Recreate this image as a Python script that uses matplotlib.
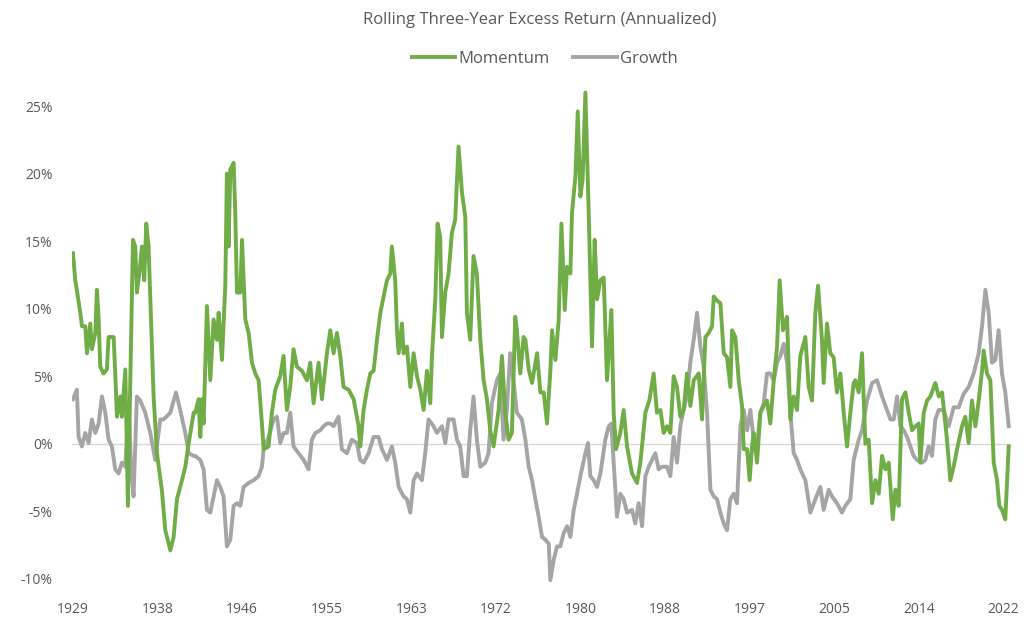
import matplotlib.pyplot as plt
import numpy as np
from matplotlib.ticker import FuncFormatter

TITLE = "Rolling Three-Year Excess Return (Annualized)"
TICK_LABELS = ["1929", "1938", "1946", "1955", "1963", "1972",
               "1980", "1988", "1997", "2005", "2014", "2022"]

MOM_YEARS = [
    1929.47, 1929.70, 1930.20, 1930.36, 1930.69, 1930.86, 1931.19, 1931.35, 1931.69, 1931.85,
    1932.02, 1932.18, 1932.51, 1932.84, 1933.01, 1933.51, 1933.67, 1933.84, 1934.17, 1934.33,
    1934.67, 1934.93, 1935.43, 1935.66, 1935.82, 1936.09, 1936.32, 1936.55, 1936.75, 1936.98,
    1937.48, 1937.81, 1938.31, 1938.64, 1939.14, 1939.47, 1939.80, 1940.30, 1940.63, 1940.96,
    1941.46,
    1941.62, 1941.95, 1942.12, 1942.28, 1942.45, 1942.78, 1943.11, 1943.44, 1943.77, 1943.94,
    1944.27, 1944.60, 1944.76, 1944.93, 1945.10, 1945.43, 1945.59, 1945.76, 1946.09, 1946.26,
    1946.59, 1946.92, 1947.25, 1947.58, 1947.91, 1948.24, 1948.41, 1948.90, 1949.23, 1949.56,
    1950.06, 1950.39, 1950.72, 1951.05, 1951.38, 1951.72, 1952.21, 1952.71, 1953.04, 1953.37,
    1953.87, 1954.20, 1954.70, 1955.03, 1955.36, 1955.69, 1956.02, 1956.35, 1956.85, 1957.35,
    1957.84,
    1958.01, 1958.34, 1958.67, 1959.00, 1959.33, 1959.67, 1960.00, 1960.33, 1960.66, 1960.99,
    1961.15, 1961.48, 1961.65, 1961.82, 1962.15, 1962.31, 1962.64, 1962.98, 1963.31, 1963.64,
    1963.97, 1964.30, 1964.63, 1964.96, 1965.13, 1965.46, 1965.69, 1965.95, 1966.12, 1966.45,
    1966.78, 1967.11, 1967.44, 1967.77, 1968.11, 1968.44, 1968.60, 1968.93, 1969.26, 1969.59,
    1969.93, 1970.26, 1970.59, 1970.92, 1971.25, 1971.75, 1972.08, 1972.41, 1972.74, 1973.07,
    1973.40, 1973.57, 1973.90, 1974.23,
    1974.41, 1974.74, 1975.07, 1975.57, 1975.90, 1976.23, 1976.56, 1976.89, 1977.06, 1977.39,
    1977.72, 1977.99, 1978.32, 1978.55, 1978.88, 1979.04, 1979.38, 1979.61, 1979.87, 1980.10,
    1980.37, 1980.70, 1981.03, 1981.29, 1981.53, 1981.86, 1982.19, 1982.52, 1982.95, 1983.18,
    1983.41, 1983.84, 1984.17, 1984.51, 1985.00, 1985.50, 1985.83, 1986.33, 1986.72, 1987.15,
    1987.48, 1987.82, 1988.15, 1988.48, 1988.81, 1989.14, 1989.47, 1989.80, 1990.13, 1990.46,
    1990.80, 1991.13, 1991.63, 1991.96, 1992.29, 1992.62, 1992.95, 1993.12, 1993.45, 1993.78,
    1994.11, 1994.44, 1994.77, 1994.94, 1995.27, 1995.60, 1995.93, 1996.10, 1996.43, 1996.69,
    1996.92, 1997.09, 1997.42, 1997.75, 1998.08, 1998.41, 1998.74, 1999.08, 1999.41, 1999.67,
    2000.00, 2000.40, 2000.73, 2001.06, 2001.39, 2001.72, 2002.22, 2002.55, 2002.88, 2003.21,
    2003.48, 2003.87, 2004.04, 2004.37, 2004.70, 2005.03, 2005.36, 2005.70, 2006.03, 2006.36,
    2006.69, 2007.02,
    2007.19, 2007.52, 2007.85, 2008.18, 2008.51, 2008.85, 2009.18, 2009.51, 2009.84, 2010.17,
    2010.50, 2010.90, 2011.16, 2011.49, 2011.82, 2012.16, 2012.49, 2012.82, 2013.15, 2013.48,
    2013.64, 2013.98, 2014.31, 2014.64, 2015.13, 2015.47, 2015.80, 2016.29, 2016.62, 2016.95,
    2017.29, 2017.78, 2018.11, 2018.44, 2018.77, 2019.11, 2019.44, 2019.77, 2019.93, 2020.26,
    2020.60, 2020.93, 2021.26, 2021.49, 2021.75, 2022.08, 2022.42,
]
MOM_VALUES = [
    14.1, 12.1, 9.7, 8.7, 8.7, 6.7, 8.9, 7.0, 8.2, 11.4,
    9.2, 5.7, 5.2, 5.5, 7.9, 7.9, 5.2, 2.0, 3.5, 2.0,
    5.5, -4.6, 15.1, 14.6, 11.2, 12.8, 14.6, 12.1, 16.3, 14.6,
    3.5, -0.7, -3.5, -6.4, -7.9, -6.9, -4.1, -2.7, -1.7, 0.0,
    2.3,
    2.3, 3.3, 0.5, 3.3, 1.5, 10.2, 4.7, 9.2, 7.7, 9.7,
    6.2, 11.7, 20.0, 14.6, 20.3, 20.8, 17.1, 11.2, 11.2, 15.1,
    9.2, 8.2, 6.0, 5.2, 4.7, 1.5, -0.4, -0.2, 2.3, 4.0,
    5.0, 6.5, 2.5, 4.2, 7.0, 5.7, 5.4, 4.7, 6.0, 3.0,
    6.0, 3.3, 6.7, 8.4, 6.7, 8.2, 6.5, 4.2, 4.0, 3.3,
    1.3,
    -0.2, 2.5, 4.0, 5.2, 5.4, 7.7, 9.7, 10.9, 12.1, 12.6,
    14.6, 12.1, 8.4, 6.7, 8.9, 6.7, 7.2, 4.2, 6.7, 5.0,
    4.0, 2.5, 5.4, 3.0, 6.5, 10.7, 16.3, 15.3, 7.9, 11.2,
    12.6, 15.6, 16.6, 22.0, 18.6, 16.8, 9.7, 7.7, 13.9, 12.6,
    7.7, 4.7, 3.3, 1.0, -0.2, 2.5, 6.5, 2.3, 0.3, 0.8,
    9.4, 8.4, 5.2, 7.9,
    7.7, 5.5, 4.5, 6.7, 3.8, 3.8, 1.5, 5.4, 8.4, 6.2,
    9.2, 16.3, 9.9, 13.1, 12.6, 17.1, 19.8, 24.6, 18.3, 19.6,
    26.0, 17.1, 7.2, 15.1, 10.7, 12.1, 12.3, 4.7, 9.9, 2.3,
    -0.4, 0.8, 2.5, -0.2, -2.2, -2.9, -1.4, 2.3, 3.2, 5.2,
    2.3, 2.5, 0.8, 1.3, 0.8, 5.0, 4.2, 2.0, 2.5, 5.2,
    2.8, 4.7, 5.2, 1.8, 7.9, 8.2, 8.7, 10.9, 10.6, 10.4,
    6.7, 6.4, 4.2, 8.4, 7.9, 4.7, 2.8, -0.4, -0.4, -2.7,
    -0.2, 0.8, -1.4, 2.3, 2.8, 3.2, 1.5, 4.7, 7.2, 12.1,
    8.4, 9.4, 1.8, 3.5, 2.5, 6.5, 7.9, 4.2, 3.2, 9.7,
    11.7, 7.7, 4.5, 8.9, 6.7, 6.4, 3.8, 5.2, 2.3, -0.2,
    2.3, 4.5,
    4.7, 3.8, 6.7, 0.0, 0.3, -4.4, -2.7, -3.7, -0.9, -1.9,
    -1.4, -5.6, -3.4, -4.6, 3.3, 3.8, 2.3, 1.0, 1.3, 1.5,
    -1.4, 2.3, 3.2, 3.5, 4.5, 3.5, 3.8, 0.3, -2.7, -1.7,
    -0.4, 1.3, 2.0, 0.05, 3.2, 1.3, 3.2, 5.4, 6.9, 5.2,
    4.7, -1.4, -2.7, -4.6, -4.9, -5.6, -0.2,
]

GROWTH_YEARS = [
    1929.47, 1929.86, 1930.03, 1930.36, 1930.69, 1931.02, 1931.35, 1931.69, 1932.02, 1932.35,
    1932.68, 1933.01, 1933.34, 1933.67, 1934.00, 1934.33, 1934.67, 1935.00, 1935.26, 1935.49,
    1935.82, 1936.15, 1936.65, 1937.15, 1937.64, 1938.14, 1938.47, 1939.14, 1939.70, 1940.12,
    1940.63, 1940.96, 1941.46,
    1941.62, 1942.12, 1942.45, 1942.78, 1943.11, 1943.44, 1943.77, 1944.10, 1944.43, 1944.76,
    1945.10, 1945.43, 1945.76, 1946.09, 1946.42, 1946.92, 1947.41, 1947.91, 1948.24, 1948.41,
    1948.90, 1949.40, 1949.73, 1950.06, 1950.39, 1950.72, 1951.05, 1951.38, 1951.88, 1952.38,
    1952.87, 1953.20, 1953.54, 1954.03, 1954.36, 1954.70, 1955.03, 1955.36, 1955.85, 1956.18,
    1956.68, 1957.18, 1957.67, 1958.00,
    1958.34, 1958.84, 1959.33, 1959.83, 1960.16, 1960.66, 1961.15, 1961.48, 1961.82, 1962.31,
    1962.64, 1962.98, 1963.31, 1963.64, 1964.13, 1964.46, 1964.79, 1965.29, 1965.62, 1966.12,
    1966.45, 1966.78, 1967.28, 1967.61, 1967.94, 1968.27, 1968.60, 1968.93, 1969.26, 1969.59,
    1969.93, 1970.42, 1970.75, 1971.08, 1971.58, 1971.91, 1972.24, 1972.57, 1972.90, 1973.23,
    1973.57, 1974.06,
    1974.41, 1974.74, 1975.07, 1975.40, 1975.73, 1976.06, 1976.39, 1976.73, 1976.89, 1977.22,
    1977.55, 1977.88, 1978.22, 1978.55, 1978.88, 1979.21, 1979.54, 1979.87, 1980.37, 1980.63,
    1980.86, 1981.20, 1981.53, 1981.86, 1982.35, 1982.69, 1982.95, 1983.18, 1983.51, 1983.84,
    1984.17, 1984.51, 1985.00, 1985.33, 1985.66, 1986.00, 1986.33, 1986.66, 1986.99, 1987.32,
    1987.65, 1987.98, 1988.48, 1988.81, 1989.14, 1989.47, 1989.80, 1990.13, 1990.46, 1990.79,
    1991.13, 1991.46, 1991.79, 1992.12, 1992.46, 1992.79, 1993.12, 1993.45, 1993.78, 1994.11,
    1994.44, 1994.77, 1995.10, 1995.43, 1995.77, 1996.10, 1996.43, 1996.76, 1997.09, 1997.42,
    1997.75, 1998.08, 1998.41, 1998.74, 1999.08, 1999.41, 1999.74, 2000.07, 2000.40, 2000.73,
    2001.06, 2001.39, 2001.72, 2002.22, 2002.72, 2003.21, 2003.71, 2004.04, 2004.54, 2004.87,
    2005.36, 2005.86, 2006.19, 2006.69, 2007.02,
    2007.19, 2007.52, 2007.85, 2008.35, 2008.85, 2009.34, 2009.84, 2010.33, 2010.67, 2011.00,
    2011.33, 2011.66, 2011.99, 2012.32, 2012.65, 2012.98, 2013.31, 2013.81, 2014.14, 2014.47,
    2014.80, 2015.13, 2015.47, 2015.96, 2016.46, 2016.95, 2017.45, 2017.95, 2018.44, 2018.94,
    2019.44, 2019.77, 2020.10, 2020.43, 2020.76, 2021.09, 2021.42, 2021.75, 2022.08, 2022.42,
]
GROWTH_VALUES = [
    3.3, 4.0, 0.5, -0.2, 0.8, 0.05, 1.8, 0.8, 1.5, 3.5,
    2.3, 0.3, -0.2, -1.9, -2.2, -1.4, -1.7, 2.8, -2.0, -3.9,
    3.5, 3.2, 2.3, 0.8, -1.2, 1.8, 1.8, 2.3, 3.8, 2.5,
    0.8, -0.7, -0.9,
    -0.9, -1.2, -1.9, -4.9, -5.1, -3.9, -2.7, -3.2, -3.9, -7.6,
    -7.1, -4.6, -4.4, -4.6, -3.2, -2.9, -2.7, -2.4, -1.7, -0.4,
    0.5, 1.8, 2.0, 0.05, 0.8, 0.8, 2.3, -0.2, -0.7, -1.2,
    -1.9, 0.3, 0.8, 1.0, 1.3, 1.5, 1.5, 1.3, 2.0, -0.4,
    -0.7, 0.3, 0.05, -1.2,
    -1.4, -0.7, 0.5, 0.5, -0.4, -1.2, -0.2, -1.4, -3.2, -3.9,
    -4.1, -5.1, -2.7, -2.2, -2.7, -0.7, 1.8, 1.3, 0.8, 1.3,
    0.05, 1.8, 1.8, 0.3, -0.2, -2.4, -2.4, 1.0, 3.5, 0.3,
    -1.7, -1.4, -0.7, 3.0, 4.7, 5.2, 0.3, 2.5, 6.7, 4.7,
    2.3, 1.8,
    0.3, -1.7, -2.7, -4.1, -5.4, -6.9, -7.1, -7.4, -10.1, -8.6,
    -7.6, -7.6, -6.6, -6.1, -6.9, -4.9, -3.7, -2.4, -0.7, 0.05,
    -2.4, -2.7, -3.2, -2.2, 0.3, 1.3, 1.5, -1.4, -5.4, -3.7,
    -4.1, -5.1, -4.9, -5.9, -4.4, -6.1, -2.4, -1.7, -1.2, -0.7,
    -1.9, -1.7, -1.7, -2.4, 0.5, -1.4, 1.3, 2.5, 3.5, 6.0,
    7.7, 9.7, 7.2, 5.7, 2.2, -3.4, -3.9, -4.1, -5.1, -5.9,
    -6.4, -4.1, -3.7, -4.4, 1.3, 2.5, 1.0, 2.5, 0.3, -0.2,
    2.3, 3.0, 5.2, 5.2, 4.7, 6.0, 6.5, 7.4, 6.0, 2.3,
    -0.7, -1.2, -1.9, -2.7, -5.1, -4.1, -3.2, -4.9, -3.4, -3.9,
    -4.4, -5.1, -4.6, -4.1, -1.2,
    -0.7, 0.3, 1.0, 3.2, 4.5, 4.7, 3.5, 2.5, 1.8, 1.8,
    3.5, 1.3, 1.0, 0.5, -0.2, -0.9, -1.2, -1.4, -1.2, -0.2,
    -0.9, 1.8, 2.5, 2.5, 1.3, 2.7, 2.7, 3.7, 4.2, 5.2,
    6.7, 8.7, 11.4, 9.7, 6.0, 6.2, 8.4, 5.2, 3.8, 1.3,
]

GREEN = "#70ad47"
GREY = "#a5a5a5"
TEXT = "#595959"

plt.rcParams["font.family"] = ["Open Sans", "DejaVu Sans"]

fig = plt.figure(figsize=(10.28, 6.31), dpi=100)
ax = fig.add_axes([0.070, 0.072, 0.913, 0.792])

ax.axhline(0, color="#d9d9d9", linewidth=1.0, zorder=1)
ax.plot(MOM_YEARS, MOM_VALUES, color=GREEN, linewidth=2.8, label="Momentum", zorder=3)
ax.plot(GROWTH_YEARS, GROWTH_VALUES, color=GREY, linewidth=2.8, label="Growth", zorder=2)

ax.set_xlim(MOM_YEARS[0] - 0.1, 2022.6)
ax.set_ylim(-10.5, 26.5)
ax.set_yticks(np.arange(-10, 26, 5))
ax.yaxis.set_major_formatter(FuncFormatter(lambda v, _: f"{v:.0f}%"))

tick_pos = np.linspace(MOM_YEARS[0], 2021.9, len(TICK_LABELS))
ax.set_xticks(tick_pos)
ax.set_xticklabels(TICK_LABELS)

ax.tick_params(axis="both", length=0, labelsize=10, colors=TEXT)
ax.tick_params(axis="y", pad=14)
ax.tick_params(axis="x", pad=12)
for side in ax.spines.values():
    side.set_visible(False)

fig.text(0.525, 0.968, TITLE, ha="center", va="center", fontsize=12, color=TEXT)
fig.legend(loc="center", bbox_to_anchor=(0.53, 0.906), ncol=2, frameon=False,
           fontsize=12, handlelength=2.6, handletextpad=0.2, columnspacing=1.4,
           labelcolor=TEXT)

fig.savefig("out.png", dpi=100)
